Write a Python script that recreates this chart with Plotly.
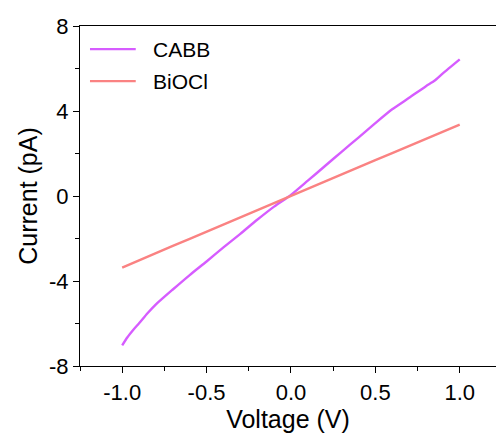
import plotly.graph_objects as go

voltage_cabb = [-1.0, -0.97, -0.93, -0.9, -0.85, -0.8, -0.7, -0.6, -0.5, -0.4, -0.3, -0.2, -0.1,
                0.0, 0.1, 0.2, 0.3, 0.4, 0.5, 0.6, 0.7, 0.8, 0.85, 0.9, 1.0]
cabb = [-7.03, -6.66, -6.26, -5.99, -5.52, -5.10, -4.40, -3.72, -3.08, -2.42, -1.78, -1.12, -0.50,
        0.05, 0.72, 1.40, 2.08, 2.75, 3.43, 4.08, 4.62, 5.17, 5.42, 5.77, 6.43]
voltage_biocl = [-1.0, -0.9, -0.8, -0.7, -0.6, -0.5, -0.4, -0.3, -0.2, -0.1,
                 0.0, 0.1, 0.2, 0.3, 0.4, 0.5, 0.6, 0.7, 0.8, 0.9, 1.0]
biocl = [-3.37, -3.02, -2.68, -2.35, -2.02, -1.68, -1.36, -1.02, -0.68, -0.34,
         0.0, 0.34, 0.68, 1.01, 1.35, 1.69, 2.02, 2.36, 2.70, 3.03, 3.36]

series_names = ["CABB", "BiOCl"]
series_colors = ["#D65CFF", "#FA8282"]

x_ticks = [-1.0, -0.5, 0.0, 0.5, 1.0]
x_ticklabels = ["-1.0", "-0.5", "0.0", "0.5", "1.0"]
y_ticks = [-8, -4, 0, 4, 8]
y_ticklabels = ["-8", "-4", "0", "4", "8"]

font_family = "Liberation Sans, Arial, sans-serif"

fig = go.Figure()
fig.add_trace(go.Scatter(x=voltage_cabb, y=cabb, mode="lines", name=series_names[0],
                         line=dict(color=series_colors[0], width=2.4, shape="spline", smoothing=0.6)))
fig.add_trace(go.Scatter(x=voltage_biocl, y=biocl, mode="lines", name=series_names[1],
                         line=dict(color=series_colors[1], width=2.4)))

axis_common = dict(
    showline=True, linecolor="black", linewidth=1.3,
    ticks="outside", ticklen=6, tickwidth=1.3, tickcolor="black",
    showgrid=False, zeroline=False,
    tickfont=dict(family=font_family, size=22, color="black"),
)

fig.update_xaxes(
    range=[-1.25, 1.215], tickmode="array", tickvals=x_ticks, ticktext=x_ticklabels,
    mirror=True,
    minor=dict(dtick=0.25, tick0=0, ticks="outside", ticklen=3.5, tickwidth=1.2, tickcolor="black"),
    title=dict(text="Voltage (V)", font=dict(family=font_family, size=25, color="black"), standoff=2),
    **axis_common,
)
fig.update_yaxes(
    range=[-8, 8], tickmode="array", tickvals=y_ticks, ticktext=y_ticklabels,
    minor=dict(dtick=2, tick0=0, ticks="outside", ticklen=3.5, tickwidth=1.2, tickcolor="black"),
    title=dict(text="Current (pA)", font=dict(family=font_family, size=25, color="black"), standoff=4),
    **axis_common,
)

# manual legend (line samples + labels) in paper coordinates
legend_y = [0.932, 0.838]
for name, color, ly in zip(series_names, series_colors, legend_y):
    fig.add_shape(type="line", xref="paper", yref="paper", x0=0.024, x1=0.134, y0=ly, y1=ly,
                  line=dict(color=color, width=2.4))
    fig.add_annotation(xref="paper", yref="paper", x=0.170, y=ly, text=name, showarrow=False,
                       xanchor="left", yanchor="middle",
                       font=dict(family=font_family, size=21, color="black"))

fig.update_layout(
    width=496, height=434,
    margin=dict(l=80, r=0, t=26, b=68),
    plot_bgcolor="white", paper_bgcolor="white",
    showlegend=False,
)

fig.write_html("out.html")
